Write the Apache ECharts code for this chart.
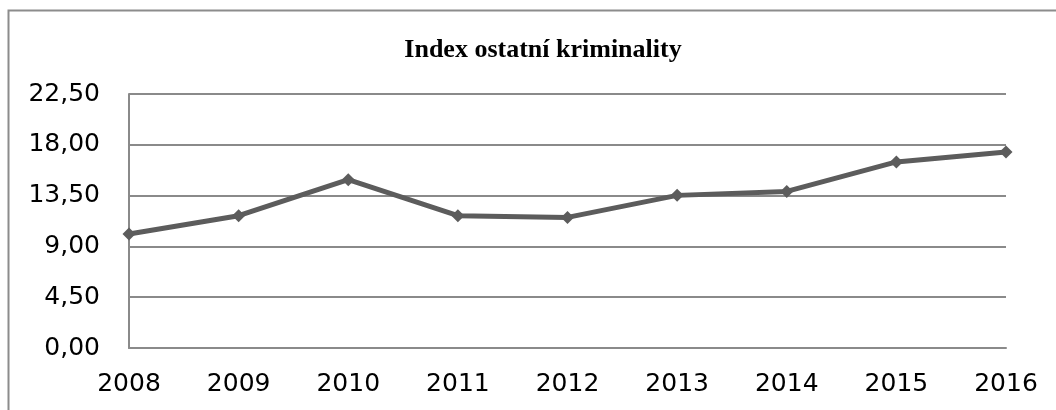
<!DOCTYPE html>
<html>
<head>
<meta charset="utf-8">
<script src="https://cdn.jsdelivr.net/npm/echarts@6/dist/echarts.min.js"></script>
<style>
  html, body { margin: 0; padding: 0; background: #fff; }
  #chart { width: 1056px; height: 410px; }
</style>
</head>
<body>
<div id="chart"></div>
<script>
const years = ['2008', '2009', '2010', '2011', '2012', '2013', '2014', '2015', '2016'];
const indexValues = [10.10, 11.72, 14.91, 11.72, 11.57, 13.52, 13.87, 16.48, 17.36];
const yMin = 0;
const yMax = 22.5;
const yStep = 4.5;

const myChart = echarts.init(document.getElementById('chart'));

const option = {
    backgroundColor: '#fff',
    animation: false,
    title: {
        text: 'Index ostatní kriminality',
        left: 538,
        textAlign: 'center',
        top: 32,
        textStyle: {
            fontFamily: 'Liberation Serif',
            fontWeight: 'bold',
            fontSize: 26,
            color: '#000'
        }
    },
    graphic: [{
        type: 'rect',
        shape: { x: 8.5, y: 10.5, width: 1200, height: 600 },
        style: { fill: 'none', stroke: '#8c8c8c', lineWidth: 2 },
        silent: true
    }],
    grid: {
        left: 129,
        right: 50,
        top: 94,
        bottom: 62
    },
    xAxis: {
        type: 'category',
        data: years,
        boundaryGap: false,
        axisLine: { lineStyle: { color: '#8a8a8a', width: 2 } },
        axisTick: { show: false },
        axisLabel: {
            color: '#000',
            fontFamily: 'DejaVu Sans',
            fontSize: 25,
            margin: 24
        },
        splitLine: { show: false }
    },
    yAxis: {
        type: 'value',
        min: yMin,
        max: yMax,
        interval: yStep,
        axisLine: { show: true, lineStyle: { color: '#8a8a8a', width: 2 } },
        axisTick: { show: false },
        axisLabel: {
            color: '#000',
            fontFamily: 'DejaVu Sans',
            fontSize: 25,
            margin: 29,
            formatter: function (v) {
                return v.toFixed(2).replace('.', ',');
            }
        },
        splitLine: { lineStyle: { color: '#8a8a8a', width: 2 } }
    },
    series: [{
        type: 'line',
        data: indexValues,
        symbol: 'diamond',
        symbolSize: 13,
        lineStyle: { color: '#5c5c5c', width: 5 },
        itemStyle: { color: '#5c5c5c' }
    }]
};

myChart.setOption(option);
</script>
</body>
</html>
